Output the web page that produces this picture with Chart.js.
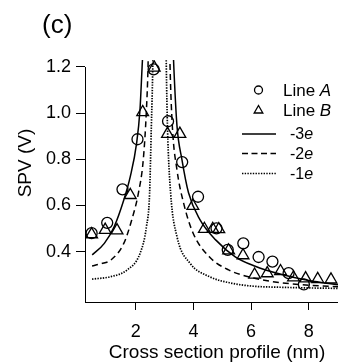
<!DOCTYPE html>
<html><head><meta charset="utf-8">
<script src="https://cdn.jsdelivr.net/npm/chart.js@4/dist/chart.umd.min.js"></script>
<style>html,body{margin:0;padding:0;background:#fff;}canvas{display:block}</style>
</head><body>
<canvas id="c" width="346" height="363"></canvas>
<script>
// ---- text ----
const panelLabel = "(c)";
const xTitle = "Cross section profile (nm)";
const yTitle = "SPV (V)";
const xTicks = [2, 4, 6, 8];
const yTicks = [0.4, 0.6, 0.8, 1.0, 1.2];

// ---- measured points ----
const lineA_x = [0.47, 1.01, 1.54, 2.06, 2.62, 3.12, 3.61, 4.16, 4.80, 5.19, 5.73, 6.26, 6.74, 7.30, 7.83];
const lineA_y = [0.480, 0.525, 0.670, 0.887, 1.190, 0.965, 0.788, 0.638, 0.501, 0.408, 0.436, 0.377, 0.357, 0.307, 0.258];

const lineB_x = [0.47, 0.94, 1.35, 1.81, 2.24, 2.64, 3.10, 3.53, 3.98, 4.38, 4.67, 4.88, 5.22, 5.72, 6.12, 6.56, 7.02, 7.47, 7.89, 8.31, 8.77];
const lineB_y = [0.475, 0.494, 0.492, 0.645, 1.004, 1.197, 0.910, 0.910, 0.598, 0.498, 0.498, 0.497, 0.405, 0.384, 0.300, 0.306, 0.315, 0.288, 0.284, 0.281, 0.279];

// ---- model curves (-3e, -2e, -1e), left and right branches ----
const m3L_x = [0.49, 0.91, 1.25, 1.585, 1.81, 2.03, 2.146, 2.22, 2.26];
const m3L_y = [0.386, 0.436, 0.508, 0.624, 0.725, 0.870, 1.014, 1.200, 1.300];
const m3R_x = [3.29, 3.32, 3.43, 3.60, 3.83, 4.22, 4.78, 5.45, 6.12, 7.00, 8.00, 9.05];
const m3R_y = [1.300, 1.200, 0.945, 0.800, 0.655, 0.540, 0.450, 0.378, 0.338, 0.303, 0.275, 0.256];

const m2L_x = [0.485, 0.80, 1.14, 1.585, 1.86, 2.09, 2.26, 2.37, 2.425, 2.44];
const m2L_y = [0.338, 0.348, 0.364, 0.436, 0.537, 0.653, 0.797, 1.014, 1.200, 1.300];
const m2R_x = [3.175, 3.19, 3.27, 3.43, 3.66, 3.99, 4.55, 5.22, 6.12, 7.00, 8.00, 9.05];
const m2R_y = [1.300, 1.200, 0.941, 0.754, 0.610, 0.480, 0.378, 0.321, 0.285, 0.266, 0.255, 0.248];

const m1L_x = [0.485, 1.14, 1.70, 2.15, 2.37, 2.48, 2.54, 2.59, 2.60];
const m1L_y = [0.281, 0.292, 0.321, 0.393, 0.508, 0.653, 0.941, 1.200, 1.300];
const m1R_x = [3.05, 3.06, 3.10, 3.21, 3.43, 3.88, 4.55, 5.34, 6.12, 7.00, 8.00, 9.05];
const m1R_y = [1.300, 1.200, 0.941, 0.653, 0.465, 0.350, 0.292, 0.263, 0.250, 0.246, 0.243, 0.241];

const pts = (xs, ys) => xs.map((x, i) => ({x: x, y: ys[i]}));

const FONT = '"Liberation Sans", Arial, Helvetica, sans-serif';
Chart.defaults.font.family = FONT;
Chart.defaults.color = '#000';

function curve(label, xs, ys, dash, width) {
  return {
    label: label, data: pts(xs, ys), showLine: true, pointRadius: 0,
    borderColor: '#000', borderWidth: width, borderDash: dash,
    cubicInterpolationMode: 'monotone', fill: false
  };
}

const overlay = {
  id: 'overlay',
  afterDraw(chart) {
    const ctx = chart.ctx, ca = chart.chartArea, ys = chart.scales.y;
    ctx.save();
    ctx.strokeStyle = '#000'; ctx.fillStyle = '#000'; ctx.lineWidth = 1;
    // left axis line (from 1.2 down to the x axis)
    ctx.beginPath();
    ctx.moveTo(85.5, Math.round(ys.getPixelForValue(yTicks[yTicks.length - 1])));
    ctx.lineTo(85.5, ca.bottom + 0.5);
    ctx.stroke();

    // panel label
    ctx.textBaseline = 'middle'; ctx.textAlign = 'left';
    ctx.font = '26px ' + FONT;
    ctx.fillText(panelLabel, 42, 26);

    // y title
    ctx.save();
    ctx.translate(26, 163); ctx.rotate(-Math.PI / 2);
    ctx.textAlign = 'center'; ctx.font = '19px ' + FONT;
    ctx.fillText(yTitle, 0, 0);
    ctx.restore();

    // x title
    ctx.textAlign = 'center'; ctx.font = '19px ' + FONT;
    ctx.fillText(xTitle, 217, 353);

    // legend
    ctx.textAlign = 'left';
    ctx.lineWidth = 1.3;
    ctx.beginPath(); ctx.arc(258.5, 90, 4, 0, Math.PI * 2); ctx.stroke();
    const tr = 5, tx = 258.5, ty = 110.5;
    ctx.beginPath();
    ctx.moveTo(tx, ty - tr);
    ctx.lineTo(tx + tr * Math.sin(2 * Math.PI / 3), ty - tr * Math.cos(2 * Math.PI / 3));
    ctx.lineTo(tx + tr * Math.sin(4 * Math.PI / 3), ty - tr * Math.cos(4 * Math.PI / 3));
    ctx.closePath(); ctx.stroke();

    const drawMixed = (a, b, x, y, size) => {
      ctx.font = size + 'px ' + FONT;
      ctx.fillText(a, x, y);
      const w = ctx.measureText(a).width;
      ctx.font = 'italic ' + size + 'px ' + FONT;
      ctx.fillText(b, x + w, y);
    };
    drawMixed('Line ', 'A', 283, 91, 17);
    drawMixed('Line ', 'B', 283, 111.5, 17);

    const lines = [[[], 134, '-3', 'e', 1.5], [[6, 3.5], 153.5, '-2', 'e', 1.5], [[1.4, 1.3], 173.5, '-1', 'e', 1.7]];
    lines.forEach(l => {
      ctx.lineWidth = l[4];
      ctx.setLineDash(l[0]);
      ctx.beginPath(); ctx.moveTo(242, l[1]); ctx.lineTo(276, l[1]); ctx.stroke();
      ctx.setLineDash([]);
      drawMixed(l[2], l[3], 290, l[1] + 1, 16);
    });
    ctx.restore();
  }
};

new Chart(document.getElementById('c'), {
  type: 'line',
  data: {
    datasets: [
      {label: 'Line A', data: pts(lineA_x, lineA_y), showLine: false, pointStyle: 'circle',
       pointRadius: 5.5, pointBorderWidth: 1.3, pointBorderColor: '#000', pointBackgroundColor: 'rgba(0,0,0,0)'},
      {label: 'Line B', data: pts(lineB_x, lineB_y), showLine: false, pointStyle: 'triangle',
       pointRadius: 6.8, pointBorderWidth: 1.3, pointBorderColor: '#000', pointBackgroundColor: 'rgba(0,0,0,0)'},
      curve('-3e', m3L_x, m3L_y, [], 1.5),
      curve('-3e R', m3R_x, m3R_y, [], 1.5),
      curve('-2e', m2L_x, m2L_y, [6, 4], 1.5),
      curve('-2e R', m2R_x, m2R_y, [6, 4], 1.5),
      curve('-1e', m1L_x, m1L_y, [1.4, 1.3], 1.7),
      curve('-1e R', m1R_x, m1R_y, [1.4, 1.3], 1.7)
    ]
  },
  options: {
    responsive: false, animation: false, devicePixelRatio: 1,
    layout: {padding: {left: 0, right: 0, top: 60, bottom: 0}},
    plugins: {legend: {display: false}, tooltip: {enabled: false}},
    scales: {
      x: {
        type: 'linear', min: 0.24, max: 9.01,
        afterFit: s => { s.height = 61; },
        afterBuildTicks: s => { s.ticks = xTicks.map(v => ({value: v})); },
        grid: {drawOnChartArea: false, drawTicks: true, tickLength: 8, color: '#000', lineWidth: 1},
        border: {display: true, color: '#000', width: 1},
        ticks: {font: {size: 18}, color: '#000', padding: 11, maxRotation: 0}
      },
      y: {
        type: 'linear', min: 0.182, max: 1.2303,
        afterFit: s => { s.width = 85; },
        afterBuildTicks: s => { s.ticks = yTicks.map(v => ({value: v})); },
        grid: {drawOnChartArea: false, drawTicks: true, tickLength: 9, color: '#000', lineWidth: 1},
        border: {display: false},
        ticks: {font: {size: 18}, color: '#000', padding: 5, callback: v => Number(v).toFixed(1)}
      }
    }
  },
  plugins: [overlay]
});
</script>
</body></html>
